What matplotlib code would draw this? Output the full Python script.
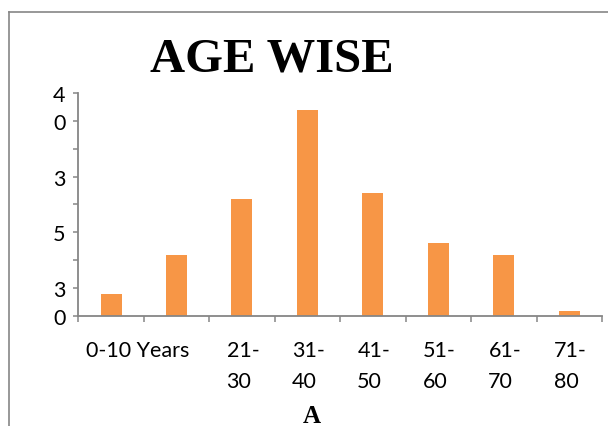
import matplotlib.pyplot as plt
from matplotlib.lines import Line2D
import matplotlib.transforms as mtransforms

# data
groups = ["0-10", "11-20", "21-30", "31-40", "41-50", "51-60", "61-70", "71-80"]
counts = [3.9, 10.9, 21.0, 36.9, 22.0, 13.0, 10.9, 0.8]
label_top = ["0-10 Years", "", "21-", "31-", "41-", "51-", "61-", "71-"]
label_bottom = ["", "", "30", "40", "50", "60", "70", "80"]
ytick_vals = [0, 5, 10, 15, 20, 25, 30, 35, 40]
ytick_text = ["0", "3", "", "5", "", "3", "", "0", "4"]

W, H = 608, 427
fig = plt.figure(figsize=(W / 100, H / 100), dpi=100)

def fx(px):
    return px / W

def fy(py):
    return 1 - py / H

ax = fig.add_axes([fx(78.3), fy(316.7), fx(602) - fx(78.3), fy(94) - fy(316.7)])

x = list(range(len(groups)))
ax.bar(x, counts, width=0.32, color="#F79646", zorder=2)

ax.set_xlim(-0.5, len(groups) - 0.5)
ax.set_ylim(0, 40)

grey = "#868686"
for s in ["top", "right"]:
    ax.spines[s].set_visible(False)
for s in ["left", "bottom"]:
    ax.spines[s].set_color(grey)
    ax.spines[s].set_linewidth(1.3)

font = "Lato"
ax.set_yticks(ytick_vals)
ax.set_yticklabels(ytick_text, fontsize=15.5, family=font)
ax.tick_params(axis="y", direction="out", length=3.6, width=1.1, color=grey, pad=5.5)

# category boundaries as x ticks, labels drawn as text below
ax.set_xticks([i - 0.5 for i in range(len(groups) + 1)])
ax.set_xticklabels([])
ax.tick_params(axis="x", direction="out", length=4, width=1.1, color=grey)

trans = mtransforms.blended_transform_factory(ax.transData, fig.transFigure)
for i, (t, b) in enumerate(zip(label_top, label_bottom)):
    xpos = i + 0.40 if i == 0 else i + 0.02
    if t:
        ax.text(xpos, fy(357), t, transform=trans, ha="center", va="baseline",
                fontsize=15.5, family=font)
    if b:
        ax.text(i - 0.05, fy(388), b, transform=trans, ha="center", va="baseline",
                fontsize=15.5, family=font)

fig.text(fx(272), fy(72), "AGE WISE", ha="center", va="baseline",
         fontsize=35, fontweight="bold", family="Liberation Serif")
fig.text(fx(312), fy(423), "A", ha="center", va="baseline",
         fontsize=18, fontweight="bold", family="Liberation Serif")

# outer chart border (only left and top visible in the crop)
fig.add_artist(Line2D([fx(8.5), fx(8.5)], [0, fy(13)], color=grey, lw=1.2,
                      transform=fig.transFigure))
fig.add_artist(Line2D([fx(8.5), 1], [fy(13), fy(13)], color=grey, lw=1.2,
                      transform=fig.transFigure))

fig.savefig("out.png", dpi=100)
